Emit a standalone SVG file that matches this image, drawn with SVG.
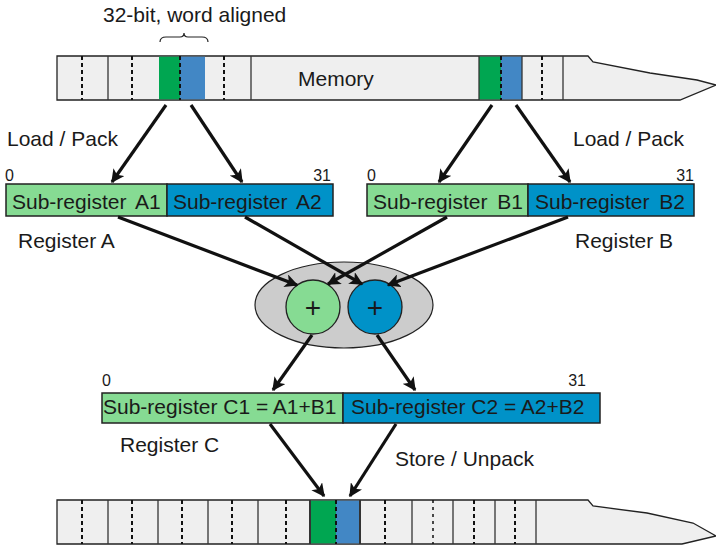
<svg xmlns="http://www.w3.org/2000/svg" width="716" height="548" viewBox="0 0 716 548">
<defs>
<style>
text{font-family:"Liberation Sans",Arial,sans-serif;fill:#1a1a1a}
.lbl{font-size:21px}
.reg{font-size:21px;word-spacing:4px}
.num{font-size:16px}
.mem{fill:#efefef;stroke:#222;stroke-width:1.3}
.sol{stroke:#333;stroke-width:1.3}
.dash{stroke:#111;stroke-width:2;stroke-dasharray:4 3}
.g1{fill:#00a651}
.b1{fill:#4287c5}
.rg{fill:#86db93;stroke:#222;stroke-width:1.5}
.rb{fill:#0092c8;stroke:#222;stroke-width:1.5}
.arr{stroke:#111;stroke-width:3.2;fill:none;marker-end:url(#ah)}
</style>
<marker id="ah" viewBox="0 0 10 10" refX="9" refY="5" markerWidth="4.2" markerHeight="4.2" orient="auto" markerUnits="strokeWidth">
<path d="M0,0 L10,5 L0,10 L2.5,5 Z" fill="#111"/>
</marker>
</defs>

<g id="memory-top">
<path class="mem" d="M57,56 H588 L593,62 L650,73 L697,80 L716,85 L680,100 H57 Z"/>
<rect class="g1" x="159" y="56.7" width="21" height="42.6"/>
<rect class="b1" x="180" y="56.7" width="25" height="42.6"/>
<rect class="g1" x="479" y="56.7" width="22" height="42.6"/>
<rect class="b1" x="501" y="56.7" width="21" height="42.6"/>
<g class="sol">
<line x1="108" y1="56" x2="108" y2="100"/>
<line x1="251" y1="56" x2="251" y2="100"/>
<line x1="479" y1="56" x2="479" y2="100"/>
<line x1="522" y1="56" x2="522" y2="100"/>
<line x1="563" y1="56" x2="563" y2="100"/>
</g>
<g class="dash">
<line x1="82" y1="56" x2="82" y2="100"/>
<line x1="132" y1="56" x2="132" y2="100"/>
<line x1="180" y1="56" x2="180" y2="100"/>
<line x1="224" y1="56" x2="224" y2="100"/>
<line x1="501" y1="56" x2="501" y2="100"/>
<line x1="542" y1="56" x2="542" y2="100"/>
</g>
<text class="lbl" x="298" y="86">Memory</text>
<path d="M160,42 Q160,37 166,37 H180 Q184,37 184,33 Q184,37 188,37 H202 Q208,37 208,42" fill="none" stroke="#222" stroke-width="1.2"/>
<text class="lbl" x="103" y="22">32-bit, word aligned</text>
</g>

<g id="register-a">
<rect class="rg" x="6" y="184" width="161" height="32"/>
<rect class="rb" x="167" y="184" width="166" height="32"/>
<text class="reg" x="12" y="209">Sub-register A1</text>
<text class="reg" x="173" y="209">Sub-register A2</text>
<text class="num" x="5" y="181">0</text>
<text class="num" x="331" y="181" text-anchor="end">31</text>
<text class="lbl" x="18" y="248">Register A</text>
<text class="lbl" x="7" y="146">Load / Pack</text>
</g>

<g id="register-b">
<rect class="rg" x="367" y="184" width="161" height="32"/>
<rect class="rb" x="528" y="184" width="166" height="32"/>
<text class="reg" x="373" y="209">Sub-register B1</text>
<text class="reg" x="535" y="209">Sub-register B2</text>
<text class="num" x="367" y="181">0</text>
<text class="num" x="694" y="181" text-anchor="end">31</text>
<text class="lbl" x="575" y="248">Register B</text>
<text class="lbl" x="573" y="146">Load / Pack</text>
</g>

<g id="adder">
<ellipse cx="344" cy="305" rx="89" ry="43" fill="#cccccc" stroke="#222" stroke-width="1.2"/>
<circle cx="313" cy="307" r="27" fill="#86db93" stroke="#222" stroke-width="1.3"/>
<circle cx="375" cy="307" r="27" fill="#0092c8" stroke="#222" stroke-width="1.3"/>
<text x="313" y="317" text-anchor="middle" style="font-size:28px">+</text>
<text x="375" y="317" text-anchor="middle" style="font-size:28px">+</text>
</g>

<g id="register-c">
<rect class="rg" x="102" y="393" width="241" height="30"/>
<rect class="rb" x="343" y="393" width="257" height="30"/>
<text class="lbl" x="103" y="414">Sub-register C1 = A1+B1</text>
<text class="lbl" x="351" y="414">Sub-register C2 = A2+B2</text>
<text class="num" x="102" y="386">0</text>
<text class="num" x="586" y="386" text-anchor="end">31</text>
<text class="lbl" x="120" y="452">Register C</text>
<text class="lbl" x="395" y="466">Store / Unpack</text>
</g>

<g id="memory-bottom">
<path class="mem" d="M57,500 H588 L593,506 L647,513 L693,523 L716,536 L682,544 H57 Z"/>
<rect class="g1" x="310" y="500.7" width="26" height="42.6"/>
<rect class="b1" x="336" y="500.7" width="24" height="42.6"/>
<g class="sol">
<line x1="108" y1="500" x2="108" y2="544"/>
<line x1="158" y1="500" x2="158" y2="544"/>
<line x1="208" y1="500" x2="208" y2="544"/>
<line x1="258" y1="500" x2="258" y2="544"/>
<line x1="310" y1="500" x2="310" y2="544" stroke-width="2"/>
<line x1="360" y1="500" x2="360" y2="544" stroke-width="2"/>
<line x1="412" y1="500" x2="412" y2="544"/>
<line x1="453" y1="500" x2="453" y2="544"/>
<line x1="495" y1="500" x2="495" y2="544"/>
<line x1="536" y1="500" x2="536" y2="544"/>
</g>
<g class="dash">
<line x1="82" y1="500" x2="82" y2="544"/>
<line x1="132" y1="500" x2="132" y2="544"/>
<line x1="182" y1="500" x2="182" y2="544"/>
<line x1="232" y1="500" x2="232" y2="544"/>
<line x1="286" y1="500" x2="286" y2="544"/>
<line x1="336" y1="500" x2="336" y2="544"/>
<line x1="385" y1="500" x2="385" y2="544"/>
<line x1="433" y1="500" x2="433" y2="544" stroke-dasharray="3 4" stroke-width="1.5"/>
<line x1="474" y1="500" x2="474" y2="544"/>
<line x1="515" y1="500" x2="515" y2="544"/>
</g>
</g>

<g id="connectors">
<line class="arr" x1="166" y1="105" x2="112" y2="182"/>
<line class="arr" x1="191" y1="105" x2="242" y2="182"/>
<line class="arr" x1="492" y1="105" x2="439" y2="182"/>
<line class="arr" x1="516" y1="105" x2="570" y2="182"/>
<line class="arr" x1="118" y1="217" x2="297" y2="285"/>
<line class="arr" x1="245" y1="217" x2="362" y2="284"/>
<line class="arr" x1="447" y1="217" x2="328" y2="284"/>
<line class="arr" x1="568" y1="217" x2="388" y2="285"/>
<line class="arr" x1="312" y1="335" x2="273" y2="390"/>
<line class="arr" x1="377" y1="335" x2="415" y2="390"/>
<line class="arr" x1="270" y1="424" x2="324" y2="496"/>
<line class="arr" x1="396" y1="424" x2="350" y2="496"/>
</g>
</svg>
